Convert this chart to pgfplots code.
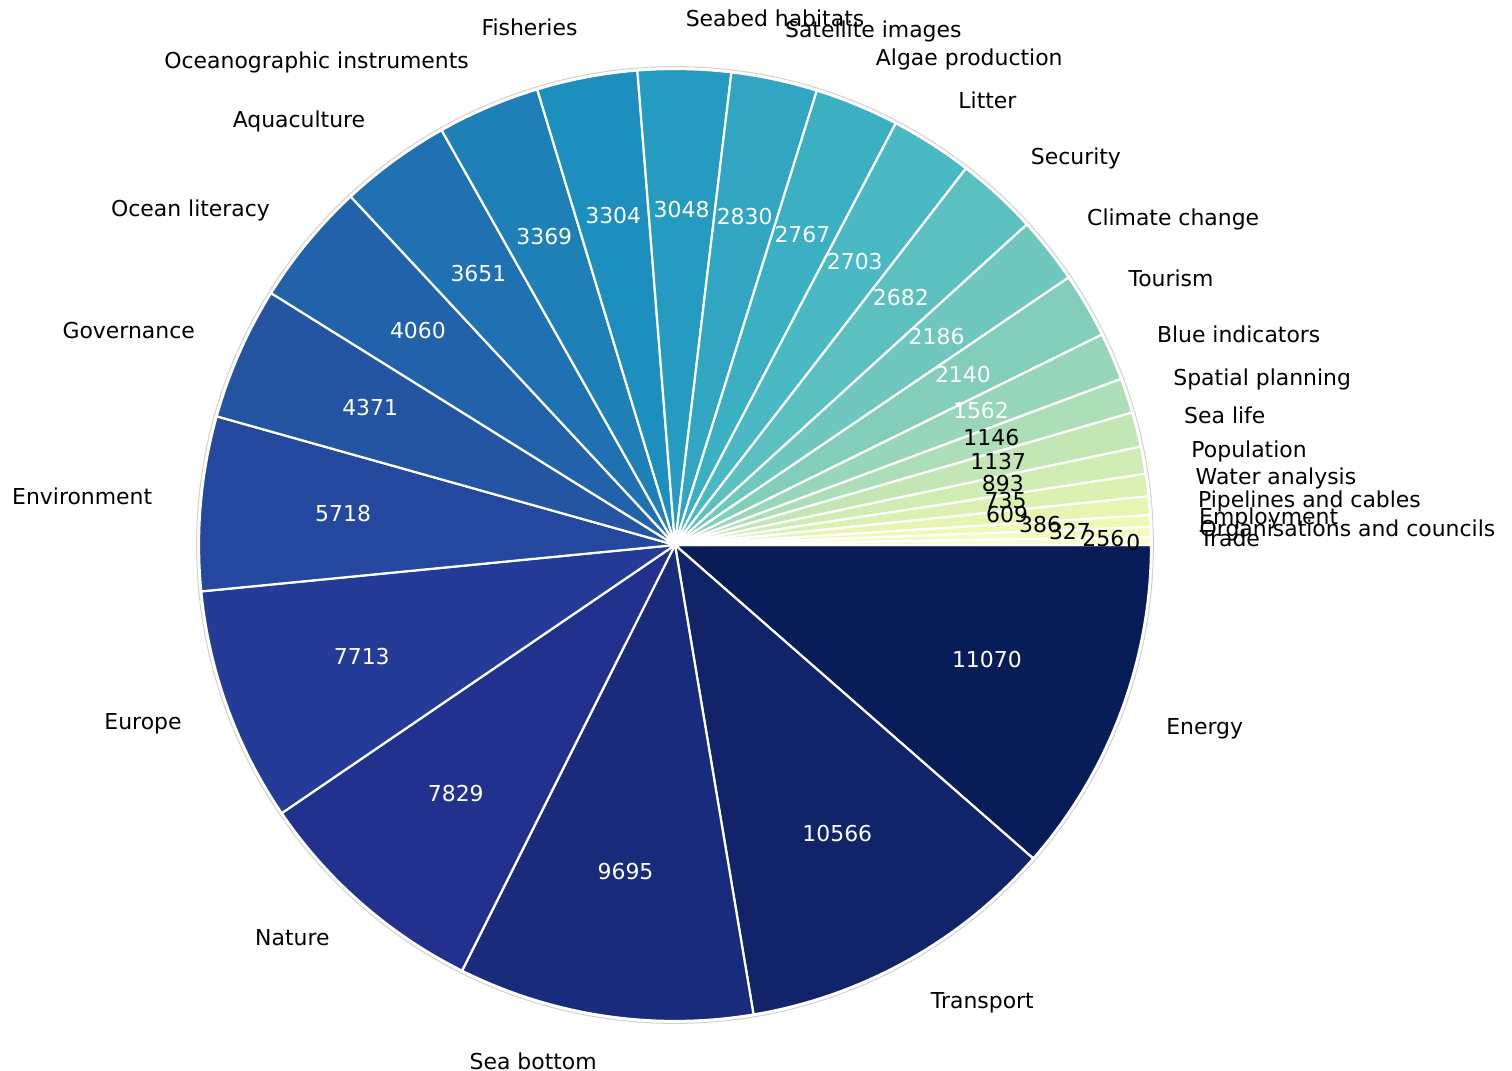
\documentclass[border=0pt]{standalone}
\usepackage{pgfplots}
\pgfplotsset{compat=1.18}
\usepackage{pgfplotstable}
\usepackage{fontspec}
\setmainfont{DejaVu Sans}

\pgfplotstableread[col sep=comma]{
value,name,rf
11070,Energy,0.7
10566,Transport,0.7
9695,Sea bottom,0.7
7829,Nature,0.7
7713,Europe,0.7
5718,Environment,0.7
4371,Governance,0.7
4060,Ocean literacy,0.7
3651,Aquaculture,0.7
3369,Oceanographic instruments,0.7
3304,Fisheries,0.7
3048,Seabed habitats,0.7
2830,Satellite images,0.7
2767,Algae production,0.7
2703,Litter,0.7
2682,Security,0.7
2186,Climate change,0.7
2140,Tourism,0.7
1562,Blue indicators,0.7
1146,Spatial planning,0.7
1137,Sea life,0.7
893,Population,0.7
735,Water analysis,0.7
609,Pipelines and cables,0.7
386,Employment,0.768
327,Organisations and councils,0.83
256,Trade,0.9
0,,0.963
}\piedata

\definecolor{Y0}{HTML}{FFFFD9}
\definecolor{Y1}{HTML}{EDF8B1}
\definecolor{Y2}{HTML}{C7E9B4}
\definecolor{Y3}{HTML}{7FCDBB}
\definecolor{Y4}{HTML}{41B6C4}
\definecolor{Y5}{HTML}{1D91C0}
\definecolor{Y6}{HTML}{225EA8}
\definecolor{Y7}{HTML}{253494}
\definecolor{Y8}{HTML}{081D58}
\colorlet{s0}{Y8}
\colorlet{s1}{Y8!70.4!Y7}
\colorlet{s2}{Y8!40.7!Y7}
\colorlet{s3}{Y8!11.1!Y7}
\colorlet{s4}{Y7!81.5!Y6}
\colorlet{s5}{Y7!51.9!Y6}
\colorlet{s6}{Y7!22.2!Y6}
\colorlet{s7}{Y6!92.6!Y5}
\colorlet{s8}{Y6!63!Y5}
\colorlet{s9}{Y6!33.3!Y5}
\colorlet{s10}{Y6!3.7!Y5}
\colorlet{s11}{Y5!74.1!Y4}
\colorlet{s12}{Y5!44.4!Y4}
\colorlet{s13}{Y5!14.8!Y4}
\colorlet{s14}{Y4!85.2!Y3}
\colorlet{s15}{Y4!55.6!Y3}
\colorlet{s16}{Y4!25.9!Y3}
\colorlet{s17}{Y3!96.3!Y2}
\colorlet{s18}{Y3!66.7!Y2}
\colorlet{s19}{Y3!37!Y2}
\colorlet{s20}{Y3!7.4!Y2}
\colorlet{s21}{Y2!77.8!Y1}
\colorlet{s22}{Y2!48.1!Y1}
\colorlet{s23}{Y2!18.5!Y1}
\colorlet{s24}{Y1!88.9!Y0}
\colorlet{s25}{Y1!59.3!Y0}
\colorlet{s26}{Y1!29.6!Y0}
\colorlet{s27}{Y0}

\begin{document}
\begin{tikzpicture}[font=\fontsize{11}{13}\selectfont,
  lbl/.style={inner sep=0pt, text height=0.76em, text depth=0.208em}]
\xdef\cumang{0}
\foreach \i in {0,...,27}{%
  \pgfplotstablegetelem{\i}{value}\of\piedata
  \xdef\curval{\pgfplotsretval}%
  \pgfplotstablegetelem{\i}{rf}\of\piedata
  \xdef\currf{\pgfplotsretval}%
  \pgfplotstablegetelem{\i}{name}\of\piedata
  \expandafter\xdef\csname nm\i\endcsname{\pgfplotsretval}%
  \expandafter\xdef\csname vl\i\endcsname{\curval}%
  \pgfmathsetmacro{\myst}{\cumang}%
  \pgfmathsetmacro{\myen}{\cumang-\curval/967.53*3.6}%
  \pgfmathsetmacro{\mymd}{(\myst+\myen)/2}%
  \pgfmathsetmacro{\mycos}{cos(\mymd)}%
  \pgfmathsetmacro{\myrr}{\currf*238}%
  \expandafter\xdef\csname st\i\endcsname{\myst}%
  \expandafter\xdef\csname en\i\endcsname{\myen}%
  \expandafter\xdef\csname md\i\endcsname{\mymd}%
  \expandafter\xdef\csname rr\i\endcsname{\myrr}%
  \ifdim\mycos pt>0pt \expandafter\xdef\csname an\i\endcsname{west}%
  \else \expandafter\xdef\csname an\i\endcsname{east}\fi
  \ifnum\i<19 \expandafter\xdef\csname tc\i\endcsname{white}%
  \else \expandafter\xdef\csname tc\i\endcsname{black}\fi
  \xdef\cumang{\myen}%
}
\begin{axis}[hide axis, scale only axis, width=756bp, height=535.5bp,
  xmin=0, xmax=1512, ymin=0, ymax=1071, clip=false]
\draw[black!18, line width=0.5bp] (axis cs:675,526) circle[radius=239.2bp];
\pgfplotsinvokeforeach{0,...,27}{
  \fill[s#1, draw=white, line width=1.1bp, line join=round]
    (axis cs:675,526) -- ++(\csname st#1\endcsname:238bp)
    arc[start angle=\csname st#1\endcsname, end angle=\csname en#1\endcsname, radius=238bp] -- cycle;
}
\pgfplotsinvokeforeach{0,...,27}{
  \node[lbl, text=\csname tc#1\endcsname, anchor=center]
    at ([shift={(\csname md#1\endcsname:\csname rr#1\endcsname bp)}]axis cs:675,526) {\csname vl#1\endcsname};
}
\pgfplotsinvokeforeach{0,...,26}{
  \node[lbl, text=black, anchor=\csname an#1\endcsname]
    at ([shift={(\csname md#1\endcsname:262.25bp)}]axis cs:675,526) {\csname nm#1\endcsname};
}
\end{axis}
\pgfresetboundingbox
\useasboundingbox (current axis.south west) rectangle (current axis.north east);
\end{tikzpicture}
\end{document}
